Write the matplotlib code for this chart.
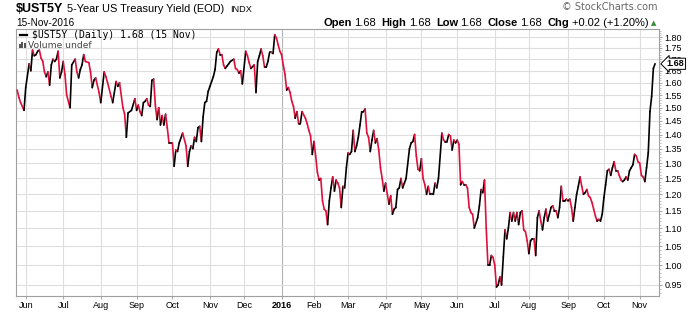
import numpy as np
import pandas as pd
import matplotlib
matplotlib.use('Agg')
import matplotlib.pyplot as plt
from matplotlib.collections import LineCollection
from matplotlib.ticker import NullFormatter
from matplotlib.transforms import blended_transform_factory
from matplotlib.lines import Line2D
from matplotlib.patches import Rectangle

plt.rcParams['font.family'] = ['Liberation Sans', 'DejaVu Sans']

# daily close of $UST5Y (key turning points)
dates = [
    '2015-05-22', '2015-05-26', '2015-05-27', '2015-05-29', '2015-06-01', '2015-06-03', '2015-06-04',
    '2015-06-05', '2015-06-08', '2015-06-09', '2015-06-10', '2015-06-11', '2015-06-12', '2015-06-15',
    '2015-06-16', '2015-06-17', '2015-06-18', '2015-06-19', '2015-06-22', '2015-06-23', '2015-06-24',
    '2015-06-25', '2015-06-26', '2015-06-29', '2015-06-30', '2015-07-01', '2015-07-02', '2015-07-06',
    '2015-07-08', '2015-07-09', '2015-07-13', '2015-07-14', '2015-07-15', '2015-07-16', '2015-07-17',
    '2015-07-20', '2015-07-21', '2015-07-23', '2015-07-24', '2015-07-27', '2015-07-28', '2015-07-29',
    '2015-07-31', '2015-08-03', '2015-08-05', '2015-08-06', '2015-08-07', '2015-08-11', '2015-08-12',
    '2015-08-14', '2015-08-17', '2015-08-18', '2015-08-20', '2015-08-21', '2015-08-24', '2015-08-25',
    '2015-08-27', '2015-08-31', '2015-09-01', '2015-09-02', '2015-09-03', '2015-09-04', '2015-09-08',
    '2015-09-09', '2015-09-10', '2015-09-11', '2015-09-14', '2015-09-15', '2015-09-16', '2015-09-17',
    '2015-09-18', '2015-09-21', '2015-09-22', '2015-09-23', '2015-09-24', '2015-09-25', '2015-09-28',
    '2015-09-29', '2015-10-01', '2015-10-02', '2015-10-05', '2015-10-06', '2015-10-07', '2015-10-09',
    '2015-10-13', '2015-10-14', '2015-10-15', '2015-10-16', '2015-10-19', '2015-10-20', '2015-10-21',
    '2015-10-22', '2015-10-23', '2015-10-26', '2015-10-27', '2015-10-28', '2015-10-29', '2015-10-30',
    '2015-11-02', '2015-11-04', '2015-11-05', '2015-11-06', '2015-11-09', '2015-11-10', '2015-11-11',
    '2015-11-12', '2015-11-13', '2015-11-16', '2015-11-17', '2015-11-18', '2015-11-20', '2015-11-23',
    '2015-11-24', '2015-11-25', '2015-11-27', '2015-11-30', '2015-12-02', '2015-12-03', '2015-12-04',
    '2015-12-07', '2015-12-09', '2015-12-10', '2015-12-11', '2015-12-14', '2015-12-15', '2015-12-16',
    '2015-12-17', '2015-12-18', '2015-12-21', '2015-12-22', '2015-12-23', '2015-12-24', '2015-12-28',
    '2015-12-29', '2015-12-30', '2015-12-31',
    '2016-01-04', '2016-01-05', '2016-01-06', '2016-01-07', '2016-01-08', '2016-01-11', '2016-01-12',
    '2016-01-13', '2016-01-14', '2016-01-15', '2016-01-19', '2016-01-20', '2016-01-21', '2016-01-25',
    '2016-01-26', '2016-01-27', '2016-01-28', '2016-01-29', '2016-02-01', '2016-02-02', '2016-02-03',
    '2016-02-04', '2016-02-05', '2016-02-08', '2016-02-09', '2016-02-10', '2016-02-11', '2016-02-12',
    '2016-02-16', '2016-02-17', '2016-02-18', '2016-02-19', '2016-02-22', '2016-02-23', '2016-02-24',
    '2016-02-25', '2016-02-26', '2016-02-29', '2016-03-01', '2016-03-02', '2016-03-03', '2016-03-04',
    '2016-03-07', '2016-03-08', '2016-03-09', '2016-03-10', '2016-03-11', '2016-03-14', '2016-03-15',
    '2016-03-16', '2016-03-17', '2016-03-18', '2016-03-21', '2016-03-22', '2016-03-23', '2016-03-24',
    '2016-03-28', '2016-03-29', '2016-03-30', '2016-03-31', '2016-04-01', '2016-04-04', '2016-04-05',
    '2016-04-06', '2016-04-07', '2016-04-08', '2016-04-11', '2016-04-12', '2016-04-13', '2016-04-14',
    '2016-04-15', '2016-04-18', '2016-04-19', '2016-04-21', '2016-04-22', '2016-04-25', '2016-04-26',
    '2016-04-27', '2016-04-28', '2016-04-29', '2016-05-02', '2016-05-03', '2016-05-04', '2016-05-05',
    '2016-05-06', '2016-05-09', '2016-05-11', '2016-05-12', '2016-05-13', '2016-05-16', '2016-05-18',
    '2016-05-19', '2016-05-20', '2016-05-23', '2016-05-24', '2016-05-25', '2016-05-26', '2016-05-27',
    '2016-05-31', '2016-06-01', '2016-06-02', '2016-06-03', '2016-06-06', '2016-06-07', '2016-06-08',
    '2016-06-09', '2016-06-10', '2016-06-13', '2016-06-14', '2016-06-15', '2016-06-17', '2016-06-20',
    '2016-06-21', '2016-06-22', '2016-06-23', '2016-06-24', '2016-06-27', '2016-06-28', '2016-06-29',
    '2016-06-30', '2016-07-01', '2016-07-05', '2016-07-06', '2016-07-07', '2016-07-08', '2016-07-11',
    '2016-07-12', '2016-07-13', '2016-07-14', '2016-07-15', '2016-07-18', '2016-07-19', '2016-07-20',
    '2016-07-21', '2016-07-22', '2016-07-25', '2016-07-26', '2016-07-27', '2016-07-28', '2016-07-29',
    '2016-08-01', '2016-08-02', '2016-08-03', '2016-08-04', '2016-08-05', '2016-08-08', '2016-08-09',
    '2016-08-10', '2016-08-11', '2016-08-12', '2016-08-15', '2016-08-16', '2016-08-18', '2016-08-19',
    '2016-08-22', '2016-08-23', '2016-08-24', '2016-08-25', '2016-08-26', '2016-08-29', '2016-08-30',
    '2016-08-31', '2016-09-01', '2016-09-02', '2016-09-06', '2016-09-07', '2016-09-08', '2016-09-09',
    '2016-09-12', '2016-09-13', '2016-09-14', '2016-09-15', '2016-09-16', '2016-09-19', '2016-09-20',
    '2016-09-21', '2016-09-22', '2016-09-23', '2016-09-26', '2016-09-27', '2016-09-28', '2016-09-29',
    '2016-09-30', '2016-10-03', '2016-10-04', '2016-10-05', '2016-10-06', '2016-10-07', '2016-10-10',
    '2016-10-11', '2016-10-12', '2016-10-13', '2016-10-14', '2016-10-17', '2016-10-18', '2016-10-19',
    '2016-10-20', '2016-10-21', '2016-10-24', '2016-10-25', '2016-10-26', '2016-10-27', '2016-10-28',
    '2016-10-31', '2016-11-01', '2016-11-02', '2016-11-03', '2016-11-04', '2016-11-07', '2016-11-08',
    '2016-11-09', '2016-11-10', '2016-11-14', '2016-11-15',
]
yields = [
    1.57, 1.54, 1.52, 1.49, 1.58, 1.68, 1.65,
    1.74, 1.715, 1.72, 1.735, 1.74, 1.705, 1.69,
    1.645, 1.625, 1.645, 1.59, 1.675, 1.70, 1.69,
    1.70, 1.735, 1.62, 1.645, 1.69, 1.635, 1.55,
    1.50, 1.675, 1.70, 1.645, 1.62, 1.655, 1.675,
    1.72, 1.69, 1.685, 1.645, 1.58, 1.61, 1.62,
    1.56, 1.52, 1.645, 1.625, 1.60, 1.545, 1.52,
    1.605, 1.585, 1.60, 1.50, 1.475, 1.39, 1.48,
    1.49, 1.535, 1.49, 1.51, 1.485, 1.47, 1.52,
    1.525, 1.535, 1.51, 1.505, 1.61, 1.615, 1.51,
    1.455, 1.50, 1.435, 1.47, 1.435, 1.475, 1.425,
    1.37, 1.37, 1.29, 1.345, 1.34, 1.37, 1.405,
    1.36, 1.29, 1.34, 1.36, 1.35, 1.39, 1.375,
    1.425, 1.43, 1.375, 1.465, 1.52, 1.525, 1.565,
    1.585, 1.625, 1.655, 1.73, 1.745, 1.72, 1.72,
    1.675, 1.66, 1.67, 1.68, 1.69, 1.70, 1.66,
    1.655, 1.64, 1.65, 1.595, 1.735, 1.715, 1.685,
    1.66, 1.675, 1.56, 1.69, 1.715, 1.745, 1.715,
    1.665, 1.665, 1.69, 1.73, 1.73, 1.725, 1.81,
    1.795, 1.765, 1.735,
    1.72, 1.675, 1.635, 1.57, 1.58, 1.56, 1.525,
    1.505, 1.46, 1.485, 1.44, 1.44, 1.485, 1.46,
    1.44, 1.415, 1.395, 1.33, 1.375, 1.325, 1.27,
    1.245, 1.25, 1.18, 1.155, 1.15, 1.11, 1.18,
    1.22, 1.255, 1.21, 1.245, 1.235, 1.22, 1.16,
    1.225, 1.22, 1.285, 1.335, 1.33, 1.34, 1.415,
    1.34, 1.36, 1.39, 1.435, 1.485, 1.485, 1.495,
    1.405, 1.39, 1.34, 1.38, 1.415, 1.37, 1.385,
    1.345, 1.285, 1.25, 1.21, 1.235, 1.20, 1.17,
    1.195, 1.14, 1.155, 1.16, 1.215, 1.22, 1.25,
    1.22, 1.235, 1.25, 1.35, 1.37, 1.375, 1.40,
    1.325, 1.28, 1.275, 1.315, 1.25, 1.23, 1.20,
    1.225, 1.20, 1.20, 1.235, 1.22, 1.25, 1.405,
    1.38, 1.375, 1.375, 1.40, 1.395, 1.345, 1.38,
    1.37, 1.38, 1.365, 1.23, 1.24, 1.23, 1.23,
    1.22, 1.16, 1.145, 1.14, 1.10, 1.13, 1.165,
    1.215, 1.205, 1.245, 1.10, 1.00, 1.00, 1.025,
    1.02, 1.00, 0.945, 0.95, 0.97, 0.95, 1.02,
    1.095, 1.07, 1.10, 1.145, 1.12, 1.145, 1.12,
    1.145, 1.11, 1.145, 1.15, 1.095, 1.09, 1.065,
    1.03, 1.065, 1.07, 1.07, 1.025, 1.13, 1.15,
    1.12, 1.095, 1.13, 1.155, 1.12, 1.16, 1.165,
    1.15, 1.15, 1.13, 1.16, 1.225, 1.18, 1.18,
    1.185, 1.18, 1.185, 1.16, 1.12, 1.16, 1.20,
    1.225, 1.255, 1.225, 1.20, 1.205, 1.215, 1.195,
    1.19, 1.175, 1.155, 1.135, 1.12, 1.125, 1.12,
    1.14, 1.19, 1.23, 1.275, 1.28, 1.26, 1.285,
    1.305, 1.275, 1.275, 1.26, 1.245, 1.24, 1.245,
    1.255, 1.245, 1.275, 1.285, 1.295, 1.33, 1.325,
    1.305, 1.30, 1.26, 1.255, 1.24, 1.285, 1.335,
    1.485, 1.545, 1.66, 1.68,
]
holidays = ['2015-05-25', '2015-07-03', '2015-09-07', '2015-11-26', '2015-12-25',
            '2016-01-01', '2016-01-18', '2016-02-15', '2016-03-25', '2016-05-30',
            '2016-07-04', '2016-09-05', '2016-11-11']
y_ticks = [0.95, 1.00, 1.05, 1.10, 1.15, 1.20, 1.25, 1.30, 1.35, 1.40,
           1.45, 1.50, 1.55, 1.60, 1.65, 1.70, 1.75, 1.80]
last_close = 1.68

W, H = 700, 312
RED = '#e0103c'

# chart is spaced by trading day
days = pd.bdate_range('2015-05-22', '2016-11-15', freq='C', holidays=holidays)
x = days.get_indexer(pd.to_datetime(dates))
y = np.array(yields)

fig = plt.figure(figsize=(W / 100, H / 100), dpi=100)
ax = fig.add_axes([16 / W, 1 - 296 / H, (659 - 16) / W, (296 - 29) / H])

pts = np.column_stack([x, y])
segs = np.stack([pts[:-1], pts[1:]], axis=1)
cols = np.where(np.diff(y) >= 0, 'black', RED)
ax.add_collection(LineCollection(segs, colors=cols, linewidths=1.2,
                                 capstyle='round', joinstyle='round', zorder=3))

ax.set_yscale('log')
ax.set_ylim(0.9234, 1.8375)
ax.set_xlim(-0.7, 376.3)

# month ticks at the first trading day of each month
idx = pd.Series(np.arange(len(days)), index=days)
first = idx.groupby([days.year, days.month]).first().iloc[1:]
month_pos = first.values
month_lab = ['2016' if (yr, m) == (2016, 1) else pd.Timestamp(yr, m, 1).strftime('%b')
             for yr, m in first.index]

for p, lab in zip(month_pos, month_lab):
    ax.axvline(p, color='#b4b4b4' if lab == '2016' else '#dedede', lw=0.8, zorder=1)
for v in y_ticks:
    ax.axhline(v, color='#dedede', lw=0.8, zorder=1)

ax.set_xticks(month_pos)
ax.set_xticklabels(month_lab)
for t in ax.get_xticklabels():
    if t.get_text() == '2016':
        t.set_fontweight('bold')
ax.tick_params(axis='x', length=2, width=0.6, color='#999999', pad=1.5, labelsize=6.5)

ax.yaxis.tick_right()
ax.set_yticks(y_ticks)
ax.set_yticklabels([f'{v:.2f}' for v in y_ticks])
ax.set_yticks(np.round(np.arange(0.93, 1.84, 0.01), 2), minor=True)
ax.yaxis.set_minor_formatter(NullFormatter())
ax.tick_params(axis='y', which='major', length=2.5, width=0.6, color='#999999', pad=1.5, labelsize=6.5)
ax.tick_params(axis='y', which='minor', length=1.5, width=0.5, color='#aaaaaa')

for s in ax.spines.values():
    s.set_color('#a0a0a0')
    s.set_linewidth(0.8)

# last value marker on the price axis
tr = blended_transform_factory(ax.transAxes, ax.transData)
ax.text(1.012, last_close, f'{last_close:.2f}', transform=tr, ha='left', va='center',
        fontsize=6.5, fontweight='bold', zorder=5, clip_on=False,
        bbox=dict(boxstyle='larrow,pad=0.12', fc='white', ec='black', lw=0.7))


def fx(px):
    return px / W


def fy(py):
    return 1 - py / H


# header
fig.text(fx(16), fy(12), '$UST5Y', fontsize=9, fontweight='bold', va='baseline')
fig.text(fx(67), fy(12), '5-Year US Treasury Yield (EOD)', fontsize=7.9, va='baseline')
fig.text(fx(230), fy(12), 'INDX', fontsize=6.6, va='baseline')
fig.text(fx(16), fy(26), '15-Nov-2016', fontsize=7.2, va='baseline')
fig.text(fx(658), fy(10.5), '\u00a9 StockCharts.com', fontsize=7, color='#666666',
         ha='right', va='baseline', family=['DejaVu Sans'])

renderer = fig.canvas.get_renderer()
parts = [('Open', 'bold'), ('1.68', 'normal'), ('High', 'bold'), ('1.68', 'normal'),
         ('Low', 'bold'), ('1.68', 'normal'), ('Close', 'bold'), ('1.68', 'normal'),
         ('Chg', 'bold'), ('+0.02 (+1.20%)', 'normal')]
cx = 323
for s, w in parts:
    t = fig.text(fx(cx), fy(25.5), s, fontsize=8, fontweight=w, va='baseline')
    cx += t.get_window_extent(renderer).width + (2.5 if w == 'bold' else 5.5)
fig.text(fx(cx - 3.5), fy(25.5), '\u25b2', fontsize=5, color='#2e8b2e', va='baseline',
         family=['DejaVu Sans'])

# legend in the chart
fig.add_artist(Line2D([fx(20), fx(27)], [fy(35), fy(35)], color='black', lw=1.6))
fig.text(fx(32), fy(38), '$UST5Y (Daily) 1.68 (15 Nov)', fontsize=7, va='baseline',
         family=['DejaVu Sans Mono'])
for bx, bh in [(18.5, 4), (21, 6), (23.5, 5)]:
    fig.add_artist(Rectangle((fx(bx), fy(48)), 2 / W, bh / H, color='#555555', lw=0))
fig.text(fx(28.5), fy(48), 'Volume undef', fontsize=6.6, color='#444444', va='baseline',
         family=['DejaVu Sans'])

fig.savefig('out.png', dpi=100)
